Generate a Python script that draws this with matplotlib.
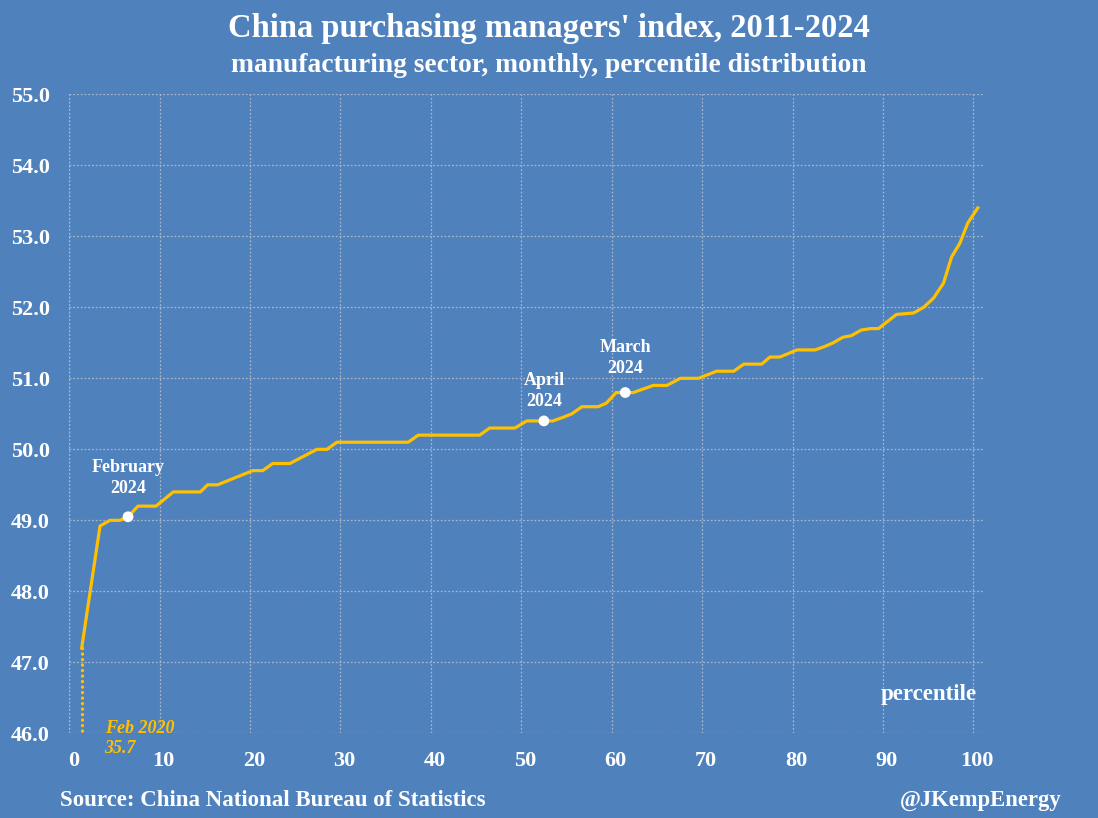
import matplotlib.pyplot as plt
import matplotlib.transforms as mtransforms

# percentile position and PMI value (vertices of the line)
pct = [1.37, 3.4, 4.5, 5.6, 6.5, 7.6, 9.6, 11.5, 14.5, 15.3, 16.4, 20.3, 21.4,
       22.5, 24.4, 27.4, 28.5, 29.6, 37.5, 38.6, 45.4, 46.5, 49.3, 50.6, 52.5,
       53.5, 54.6, 55.6, 56.7, 58.5, 59.4, 60.5, 61.5, 62.4, 63.5, 64.6, 66.1,
       67.6, 69.6, 71.6, 73.5, 74.6, 76.6, 77.5, 78.6, 80.5, 82.5, 83.6, 84.5,
       85.6, 86.5, 87.6, 88.6, 89.5, 91.5, 93.4, 94.5, 95.6, 96.7, 97.6, 98.5,
       99.4, 100.5]
pmi = [47.2, 48.92, 49.0, 49.0, 49.05, 49.2, 49.2, 49.4, 49.4, 49.5, 49.5, 49.7,
       49.7, 49.8, 49.8, 50.0, 50.0, 50.1, 50.1, 50.2, 50.2, 50.3, 50.3, 50.4,
       50.4, 50.4, 50.45, 50.5, 50.6, 50.6, 50.65, 50.8, 50.8, 50.8, 50.85, 50.9,
       50.9, 51.0, 51.0, 51.1, 51.1, 51.2, 51.2, 51.3, 51.3, 51.4, 51.4, 51.45,
       51.5, 51.58, 51.6, 51.68, 51.7, 51.7, 51.9, 51.92, 52.0, 52.13, 52.34,
       52.71, 52.9, 53.19, 53.4]

# highlighted months
hl_labels = ["February\n2024", "April\n2024", "March\n2024"]
hl_pct = [6.5, 52.5, 61.5]
hl_pmi = [49.05, 50.4, 50.8]

feb2020_month = "Feb 2020"
feb2020_value = "35.7"

bg = "#4F81BD"
gold = "#FFC000"
gridc = "#A9B6C8"
plt.rcParams["font.family"] = ["Liberation Serif", "DejaVu Serif"]
plt.rcParams["font.weight"] = "bold"

fig = plt.figure(figsize=(10.98, 8.18), dpi=100, facecolor=bg)
ax = fig.add_axes([0.0631, 0.1035, 0.8324, 0.7812], facecolor=bg)

ax.plot(pct, pmi, color=gold, lw=2.3, solid_joinstyle="round", zorder=3)
# Feb 2020 is off the scale: dotted drop to the axis floor
ax.plot([pct[0], pct[0]], [pmi[0], 46.0], color=gold, lw=2.4, ls=(0, (0.05, 1.6)),
        dash_capstyle="round", zorder=3, clip_on=False)
ax.scatter(hl_pct, hl_pmi, s=60, color="white", zorder=4, edgecolors="none")

# offsets in points above each marker
for lab, x, y, off in zip(hl_labels, hl_pct, hl_pmi, [14, 8, 11.5]):
    ax.annotate(lab, (x, y), xytext=(0, off), textcoords="offset points",
                ha="center", va="bottom", color="white", fontsize=13,
                fontweight="bold", linespacing=1.3)

ax.text(3.9, 46.07, feb2020_month, color=gold, fontsize=13, fontstyle="italic",
        fontweight="bold", va="center", ha="left")
ax.text(3.9, 45.79, feb2020_value, color=gold, fontsize=13, fontstyle="italic",
        fontweight="bold", va="center", ha="left", clip_on=False)
ax.text(95.1, 46.54, "percentile", color="white", fontsize=16.5,
        fontweight="bold", ha="center", va="center")

ax.set_xlim(0, 101.1)
ax.set_ylim(46, 55)
ax.set_xticks(range(0, 101, 10))
ax.set_yticks([46 + i for i in range(10)])
ax.set_yticklabels([f"{46 + i:.1f}" for i in range(10)])
ax.grid(True, color=gridc, ls=(0, (1.5, 1.5)), lw=0.9)
ax.set_axisbelow(True)
for s in ax.spines.values():
    s.set_visible(False)
ax.plot([0, 0], [46, 55], color=gridc, ls=(0, (1.5, 1.5)), lw=0.9, zorder=1)
ax.tick_params(length=0, colors="white", labelsize=16)
ax.tick_params(axis="x", pad=13)
ax.tick_params(axis="y", pad=14)
shift = mtransforms.ScaledTranslation(4 / 100, 0, fig.dpi_scale_trans)
for t in ax.get_xticklabels():
    t.set_transform(t.get_transform() + shift)
for t in ax.get_xticklabels() + ax.get_yticklabels():
    t.set_fontweight("bold")

fig.text(0.5, 0.9544, "China purchasing managers' index, 2011-2024", ha="center",
         va="baseline", color="white", fontsize=23.5, fontweight="bold")
fig.text(0.5, 0.9124, "manufacturing sector, monthly, percentile distribution",
         ha="center", va="baseline", color="white", fontsize=19.8, fontweight="bold")
fig.text(0.055, 0.0147, "Source: China National Bureau of Statistics", ha="left",
         va="baseline", color="white", fontsize=16.5, fontweight="bold")
fig.text(0.967, 0.0147, "@JKempEnergy", ha="right", va="baseline", color="white",
         fontsize=16.3, fontweight="bold")

fig.savefig("out.png", dpi=100, facecolor=bg)
